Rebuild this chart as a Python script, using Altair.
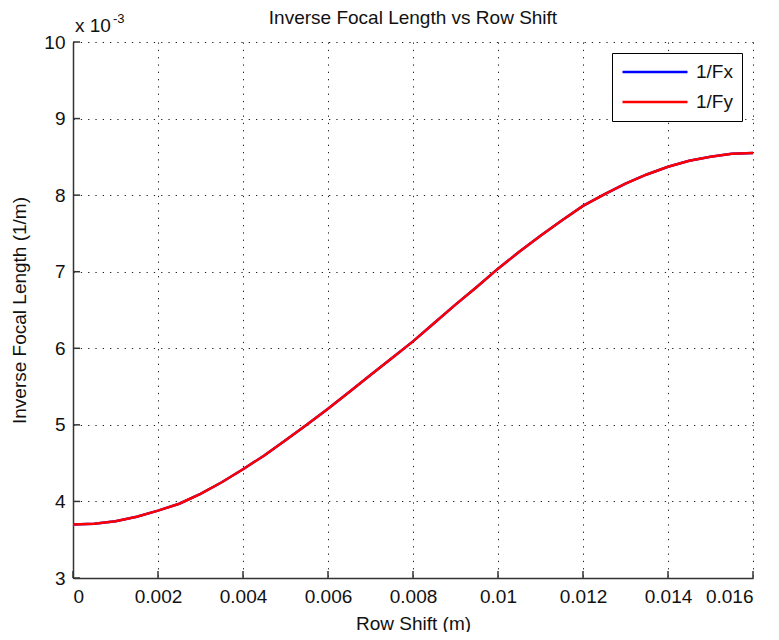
import altair as alt
import pandas as pd

# Row shift (m)
shift = [0.0, 0.0005, 0.001, 0.0015, 0.002, 0.0025, 0.003, 0.0035, 0.004, 0.0045,
         0.005, 0.0055, 0.006, 0.0065, 0.007, 0.0075, 0.008, 0.0085, 0.009, 0.0095,
         0.010, 0.0105, 0.011, 0.0115, 0.012, 0.0125, 0.013, 0.0135, 0.014, 0.0145,
         0.015, 0.0155, 0.016]
# Inverse focal length (1/m)
inv_fx = [0.00370, 0.00371, 0.00374, 0.00380, 0.00388, 0.00397, 0.00410, 0.00425, 0.00442, 0.00460,
          0.00480, 0.00500, 0.00521, 0.00543, 0.00565, 0.00587, 0.00609, 0.00633, 0.00657, 0.00680,
          0.00704, 0.00726, 0.00747, 0.00767, 0.00786, 0.00801, 0.00815, 0.00827, 0.00837, 0.00845,
          0.00850, 0.00854, 0.00855]
inv_fy = [0.00370, 0.00371, 0.00374, 0.00380, 0.00388, 0.00397, 0.00410, 0.00425, 0.00442, 0.00460,
          0.00480, 0.00500, 0.00521, 0.00543, 0.00565, 0.00587, 0.00609, 0.00633, 0.00657, 0.00680,
          0.00704, 0.00726, 0.00747, 0.00767, 0.00786, 0.00801, 0.00815, 0.00827, 0.00837, 0.00845,
          0.00850, 0.00854, 0.00855]
series_names = ["1/Fx", "1/Fy"]
series_colors = ["#0000ff", "#ff0000"]

x_ticks = [0, 0.002, 0.004, 0.006, 0.008, 0.01, 0.012, 0.014, 0.016]
y_ticks = [0.003, 0.004, 0.005, 0.006, 0.007, 0.008, 0.009, 0.010]

TITLE = "Inverse Focal Length vs Row Shift"

W, H = 680, 536
FONT = "Liberation Sans"
FS = 19

df = pd.concat([
    pd.DataFrame({"shift": shift, "inv": inv_fx, "series": series_names[0]}),
    pd.DataFrame({"shift": shift, "inv": inv_fy, "series": series_names[1]}),
])

xscale = alt.Scale(domain=[0, 0.016], nice=False, zero=False)
yscale = alt.Scale(domain=[0.003, 0.010], nice=False, zero=False)

color = alt.Color(
    "series:N",
    scale=alt.Scale(domain=series_names, range=series_colors),
    legend=alt.Legend(
        title=None, orient="none", legendX=539, legendY=11,
        direction="vertical",
        strokeColor="black", fillColor="white", padding=9,
        symbolType="stroke", symbolSize=4225, symbolStrokeWidth=2.5,
        labelFont=FONT, labelFontSize=FS, labelColor="#111", labelOffset=7,
        clipHeight=20, rowPadding=10,
    ),
)

xaxis = alt.Axis(
    values=x_ticks, format="~g", title="Row Shift (m)", grid=True,
    gridDash=[1.3, 6], gridColor="#222", gridOpacity=1,
    ticks=False, labelPadding=9, titlePadding=8,
    domainColor="#333", domainWidth=1.5,
)
yaxis = alt.Axis(
    values=y_ticks, labelExpr="format(datum.value*1000, '~g')",
    title="Inverse Focal Length (1/m)", grid=True,
    gridDash=[1.3, 6], gridColor="#222", gridOpacity=1,
    ticks=False, labelPadding=8, titlePadding=14,
    domainColor="#333", domainWidth=1.5,
)

base = alt.Chart(df)

blue = base.transform_filter(alt.datum.series == series_names[0]).mark_line(strokeWidth=2.5).encode(
    x=alt.X("shift:Q", scale=xscale, axis=xaxis),
    y=alt.Y("inv:Q", scale=yscale, axis=yaxis),
    color=color,
)
red = base.transform_filter(alt.datum.series == series_names[1]).mark_line(strokeWidth=2.5).encode(
    x=alt.X("shift:Q", scale=xscale),
    y=alt.Y("inv:Q", scale=yscale),
    color=color,
)

xt = alt.Chart(pd.DataFrame({"t": x_ticks})).mark_rule(color="#333", strokeWidth=1.5).encode(
    x=alt.X("t:Q", scale=xscale), y=alt.value(H), y2=alt.value(H - 7)
)
yt = alt.Chart(pd.DataFrame({"t": y_ticks})).mark_rule(color="#333", strokeWidth=1.5).encode(
    y=alt.Y("t:Q", scale=yscale), x=alt.value(0), x2=alt.value(7)
)

one = pd.DataFrame({"a": [0]})
exp_base = alt.Chart(one).mark_text(font=FONT, fontSize=FS, align="left", baseline="alphabetic", color="#111").encode(
    x=alt.value(2), y=alt.value(-10), text=alt.value("x 10")
)
exp_sup = alt.Chart(one).mark_text(font=FONT, fontSize=13, align="left", baseline="alphabetic", color="#111").encode(
    x=alt.value(40), y=alt.value(-19), text=alt.value("-3")
)
title_mark = alt.Chart(one).mark_text(font=FONT, fontSize=FS, align="center", baseline="alphabetic", color="#111").encode(
    x=alt.value(W / 2), y=alt.value(-18), text=alt.value(TITLE)
)

chart = alt.layer(blue, red, xt, yt, exp_base, exp_sup, title_mark).properties(
    width=W, height=H,
    autosize=alt.AutoSizeParams(type="none"),
    padding={"left": 65, "top": 34, "right": 18, "bottom": 54},
).configure_view(stroke=None).configure_axis(
    labelFont=FONT, labelFontSize=FS, labelColor="#111",
    titleFont=FONT, titleFontSize=FS, titleFontWeight="normal", titleColor="#111",
)

chart.save("out.html", embed_options={"renderer": "svg", "actions": False})
